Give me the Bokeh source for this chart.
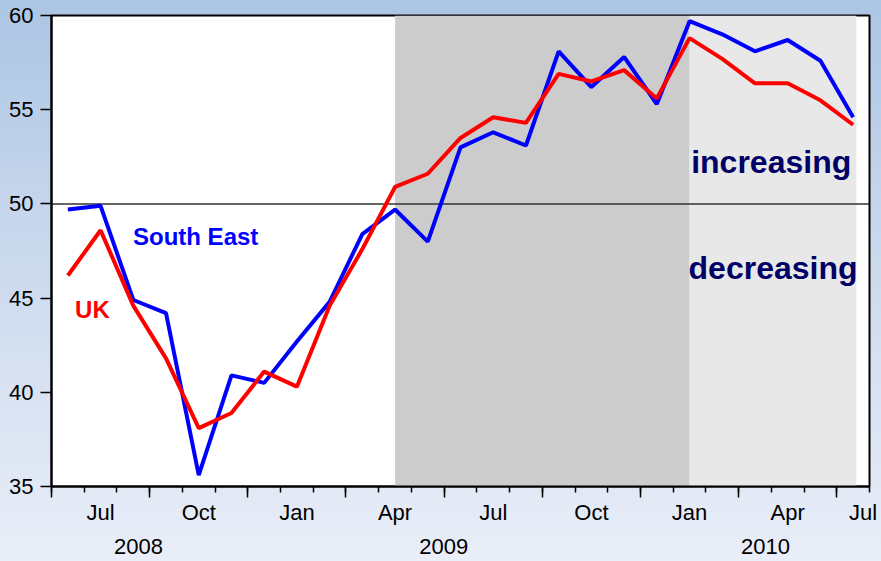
from bokeh.plotting import figure
from bokeh.models import (LinearAxis, FixedTicker, Range1d, BoxAnnotation, Span, Label)
from bokeh.embed import file_html
from bokeh.resources import INLINE

# ---- data (monthly, Jun 2008 .. Jun 2010) ----
months = ["Jun08", "Jul08", "Aug08", "Sep08", "Oct08", "Nov08", "Dec08",
          "Jan09", "Feb09", "Mar09", "Apr09", "May09", "Jun09", "Jul09", "Aug09",
          "Sep09", "Oct09", "Nov09", "Dec09", "Jan10", "Feb10", "Mar10", "Apr10",
          "May10", "Jun10"]
south_east = [49.7, 49.9, 44.9, 44.2, 35.6, 40.9, 40.5, 42.7, 44.8, 48.4, 49.7, 48.0,
              53.0, 53.8, 53.1, 58.1, 56.2, 57.8, 55.3, 59.7, 59.0, 58.1, 58.7, 57.6, 54.6]
uk = [46.2, 48.6, 44.6, 41.8, 38.1, 38.9, 41.1, 40.3, 44.6, 47.6, 50.9, 51.6,
      53.5, 54.6, 54.3, 56.9, 56.5, 57.1, 55.6, 58.8, 57.7, 56.4, 56.4, 55.5, 54.2]
month_tick_pos = [1, 4, 7, 10, 13, 16, 19, 22, 24.3]
month_tick_labels = ["Jul", "Oct", "Jan", "Apr", "Jul", "Oct", "Jan", "Apr", "Jul"]
year_pos = [2.16, 11.49, 21.32]
year_labels = ["2008", "2009", "2010"]
y_ticks = [35, 40, 45, 50, 55, 60]
shade_dark = (10, 19)
shade_light = (19, 24.1)
threshold = 50

x = list(range(len(months)))
FONT = "Liberation Sans"

p = figure(width=881, height=561, output_backend="svg", toolbar_location=None,
           x_axis_type=None, y_axis_type=None,
           x_range=Range1d(-0.5, len(months) - 0.5), y_range=Range1d(35, 60),
           min_border_left=51, min_border_right=12, min_border_top=15, min_border_bottom=75)
p.border_fill_color = None
p.background_fill_color = "white"
p.outline_line_color = "black"
p.outline_line_width = 2
p.styles = {"background": "linear-gradient(to bottom, #abc5e4 0%, #c8d7ec 40%, #e9eef8 100%)"}

# shaded periods
p.add_layout(BoxAnnotation(left=shade_dark[0], right=shade_dark[1], fill_color="#cccccc",
                           fill_alpha=1, line_color=None, level="underlay"))
p.add_layout(BoxAnnotation(left=shade_light[0], right=shade_light[1], fill_color="#e8e8e8",
                           fill_alpha=1, line_color=None, level="underlay"))
p.add_layout(Span(location=threshold, dimension="width", line_color="#333333",
                  line_width=1.5, level="underlay"))

p.line(x, south_east, line_color="#0000ff", line_width=4)
p.line(x, uk, line_color="#ff0000", line_width=4)

# y axis
ya = LinearAxis(ticker=FixedTicker(ticks=y_ticks, minor_ticks=[]))
ya.major_tick_out = 11
ya.major_tick_in = 0
ya.minor_tick_out = 0
ya.major_label_standoff = 7
ya.axis_line_color = "black"
ya.axis_line_width = 2
ya.major_tick_line_width = 1.5
ya.major_label_text_font = FONT
ya.major_label_text_font_size = "22px"
ya.major_label_text_color = "black"
p.add_layout(ya, "left")

# x axis: ticks only (month boundaries, longer at quarter boundaries)
bounds_all = [i - 0.5 for i in range(len(months) + 1)]
bounds_q = [i - 0.5 for i in range(0, len(months) + 1, 3)]
xa = LinearAxis(ticker=FixedTicker(ticks=bounds_q, minor_ticks=bounds_all),
                major_label_overrides={b: "" for b in bounds_q})
xa.major_tick_out = 11
xa.major_tick_in = 0
xa.minor_tick_out = 6
xa.minor_tick_in = 0
xa.major_tick_line_width = 1.5
xa.minor_tick_line_width = 1.5
xa.minor_tick_line_color = "black"
xa.axis_line_width = 2
xa.major_label_text_font_size = "2px"
xa.major_label_standoff = 0
p.add_layout(xa, "below")

# x axis: month labels
xm = LinearAxis(ticker=FixedTicker(ticks=month_tick_pos, minor_ticks=[]),
                major_label_overrides={k: v for k, v in zip(month_tick_pos, month_tick_labels)})
xm.axis_line_color = None
xm.major_tick_line_color = None
xm.minor_tick_line_color = None
xm.major_tick_out = 0
xm.major_label_standoff = 2
xm.major_label_text_font = FONT
xm.major_label_text_font_size = "22px"
xm.major_label_text_color = "black"
p.add_layout(xm, "below")

# x axis: year labels
xy = LinearAxis(ticker=FixedTicker(ticks=year_pos, minor_ticks=[]),
                major_label_overrides={k: v for k, v in zip(year_pos, year_labels)})
xy.axis_line_color = None
xy.major_tick_line_color = None
xy.minor_tick_line_color = None
xy.major_tick_out = 0
xy.major_label_standoff = 11
xy.major_label_text_font = FONT
xy.major_label_text_font_size = "22px"
xy.major_label_text_color = "black"
p.add_layout(xy, "below")

# annotations
p.add_layout(Label(x=1.99, y=48.28, text="South East", text_color="#0000ff",
                   text_font=FONT, text_font_style="bold", text_font_size="24px",
                   text_baseline="alphabetic"))
p.add_layout(Label(x=0.22, y=44.4, text="UK", text_color="#ff0000",
                   text_font=FONT, text_font_style="bold", text_font_size="24px",
                   text_baseline="alphabetic"))
p.add_layout(Label(x=19.05, y=52.2, text="increasing", text_color="#000066",
                   text_font=FONT, text_font_style="bold", text_font_size="32px",
                   text_baseline="alphabetic"))
p.add_layout(Label(x=18.97, y=46.6, text="decreasing", text_color="#000066",
                   text_font=FONT, text_font_style="bold", text_font_size="32px",
                   text_baseline="alphabetic"))

open("out.html", "w").write(file_html(p, INLINE))
